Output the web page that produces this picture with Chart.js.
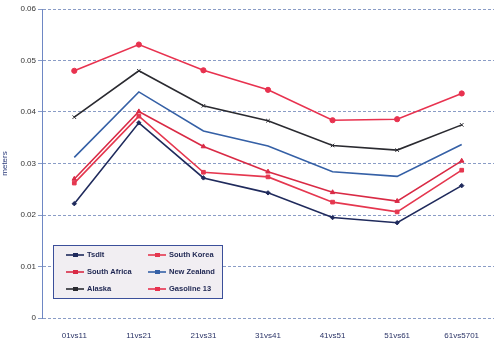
<!DOCTYPE html>
<html>
<head>
<meta charset="utf-8">
<script src="https://cdn.jsdelivr.net/npm/chart.js@4"></script>
<style>
  html, body { margin: 0; padding: 0; background: #fff; }
  #wrap { width: 500px; height: 339px; position: relative; }
</style>
</head>
<body>
<div id="wrap"><canvas id="chart"></canvas></div>
<script>
// categories and series
const categories = ['01vs11', '11vs21', '21vs31', '31vs41', '41vs51', '51vs61', '61vs5701'];
const tsdlt       = [0.0222, 0.0379, 0.0272, 0.0243, 0.0195, 0.0185, 0.0257];
const southKorea  = [0.0262, 0.0392, 0.0283, 0.0274, 0.0225, 0.0206, 0.0287];
const southAfrica = [0.0270, 0.0401, 0.0333, 0.0284, 0.0244, 0.0227, 0.0305];
const newZealand  = [0.0312, 0.0439, 0.0363, 0.0334, 0.0284, 0.0275, 0.0337];
const alaska      = [0.0390, 0.0480, 0.0412, 0.0383, 0.0335, 0.0326, 0.0375];
const gasoline13  = [0.0480, 0.0531, 0.0481, 0.0443, 0.0384, 0.0386, 0.0436];
const yTicks = [0, 0.01, 0.02, 0.03, 0.04, 0.05, 0.06];

const font = 'Liberation Sans, Arial, sans-serif';

function series(label, data, color, style, radius) {
    return {
        label: label,
        data: data,
        borderColor: color,
        backgroundColor: color,
        borderWidth: 1.6,
        pointStyle: style,
        pointRadius: radius,
        pointBorderWidth: 1,
        tension: 0
    };
}

// legend box drawn inside the plot, two columns like the original
const boxLegend = {
    id: 'boxLegend',
    afterDraw(chart) {
        const ctx = chart.ctx;
        const x = 53, y = 245, w = 169, h = 53;
        ctx.save();
        ctx.fillStyle = '#f1eef2';
        ctx.fillRect(x, y, w, h);
        ctx.strokeStyle = '#3b4f9a';
        ctx.lineWidth = 1;
        ctx.strokeRect(x + 0.5, y + 0.5, w, h);
        ctx.font = 'bold 7.5px ' + font;
        ctx.textBaseline = 'middle';
        chart.data.datasets.forEach((ds, k) => {
            const col = k % 2, row = Math.floor(k / 2);
            const lx = col === 0 ? 66 : 148;
            const ly = y + 10 + row * 17;
            ctx.strokeStyle = ds.borderColor;
            ctx.lineWidth = 1.6;
            ctx.beginPath();
            ctx.moveTo(lx, ly);
            ctx.lineTo(lx + 18, ly);
            ctx.stroke();
            ctx.fillStyle = ds.borderColor;
            ctx.fillRect(lx + 7, ly - 2, 5, 4);
            ctx.fillStyle = '#1c2450';
            ctx.fillText(ds.label, lx + 21, ly);
        });
        ctx.restore();
    }
};

new Chart(document.getElementById('chart'), {
    type: 'line',
    data: {
        labels: categories,
        datasets: [
            series('Tsdlt', tsdlt, '#1f2a5c', 'rectRot', 2.2),
            series('South Korea', southKorea, '#e5374f', 'rect', 2.6),
            series('South Africa', southAfrica, '#d92a45', 'triangle', 2.6),
            series('New Zealand', newZealand, '#3560a6', 'line', 0),
            series('Alaska', alaska, '#2a2a30', 'crossRot', 2.5),
            series('Gasoline 13', gasoline13, '#e8324f', 'circle', 2.6)
        ]
    },
    options: {
        responsive: true,
        maintainAspectRatio: false,
        animation: false,
        layout: { padding: { top: 9, right: 6, left: 0, bottom: 0 } },
        plugins: {
            legend: { display: false },
            tooltip: { enabled: false }
        },
        scales: {
            x: {
                offset: true,
                grid: { display: false },
                border: { display: false },
                ticks: { color: '#2a3366', font: { family: font, size: 8 }, padding: 5, maxRotation: 0 },
                afterFit(scale) { scale.height = 21; }
            },
            y: {
                min: 0,
                max: 0.06,
                afterBuildTicks(scale) { scale.ticks = yTicks.map(v => ({ value: v })); },
                grid: { color: '#8a9cc6', lineWidth: 1, drawTicks: true, tickLength: 4 },
                border: { display: true, color: '#6e87c4', dash: [3, 2] },
                ticks: {
                    color: '#333',
                    font: { family: font, size: 8 },
                    padding: 2,
                    callback: v => (v === 0 ? '0' : v.toFixed(2))
                },
                title: { display: true, text: 'meters', color: '#2a3a7a', font: { family: font, size: 8 }, padding: { top: 0, bottom: 0 } },
                afterFit(scale) { scale.width = 42; }
            }
        }
    },
    plugins: [boxLegend]
});
</script>
</body>
</html>
